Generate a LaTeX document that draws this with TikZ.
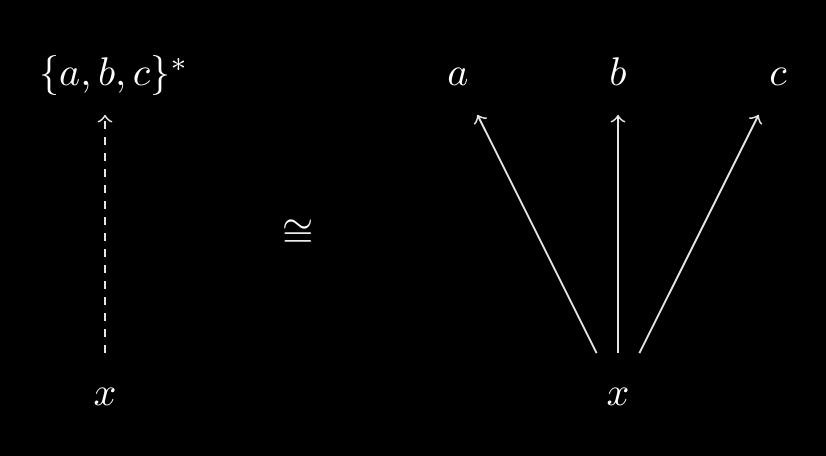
\documentclass[tikz,border=0pt]{standalone}
\usepackage{amssymb}
\tikzset{
	obj/.style={text=white, inner sep=0pt, text height=7.5pt, text depth=2.5pt, minimum height=19pt, minimum width=12pt, anchor=base},
	arr/.style={draw=white!90!black, line width=0.45pt, ->},
}
\begin{document}
\begin{tikzpicture}[x=0.25pt, y=-0.25pt]
		\fill[black] (0,0) rectangle (826,456);
		\useasboundingbox (0,0) rectangle (826,456);
		% left side
		\node[obj] (set) at (114,86) {\(\{a,b,c\}^*\)};
		\node[obj, minimum height=21pt] (xl) at (105,406) {\(x\)};
		\coordinate (settip) at (xl |- set.south);
		\draw[arr, dash pattern=on 2pt off 2pt] (xl) -- (settip);

		\node[text=white] (iso) at (298,234) {\(\cong\)};

		% right side
		\node[obj] (a) at (458,86) {\(a\)};
		\node[obj] (b) at (618,86) {\(b\)};
		\node[obj] (c) at (778,86) {\(c\)};
		\node[obj, minimum height=21pt] (xr) at (618,406) {\(x\)};

		\foreach \t in {a,b,c}
			\draw[arr] (xr) -- (\t);
	\end{tikzpicture}
\end{document}
